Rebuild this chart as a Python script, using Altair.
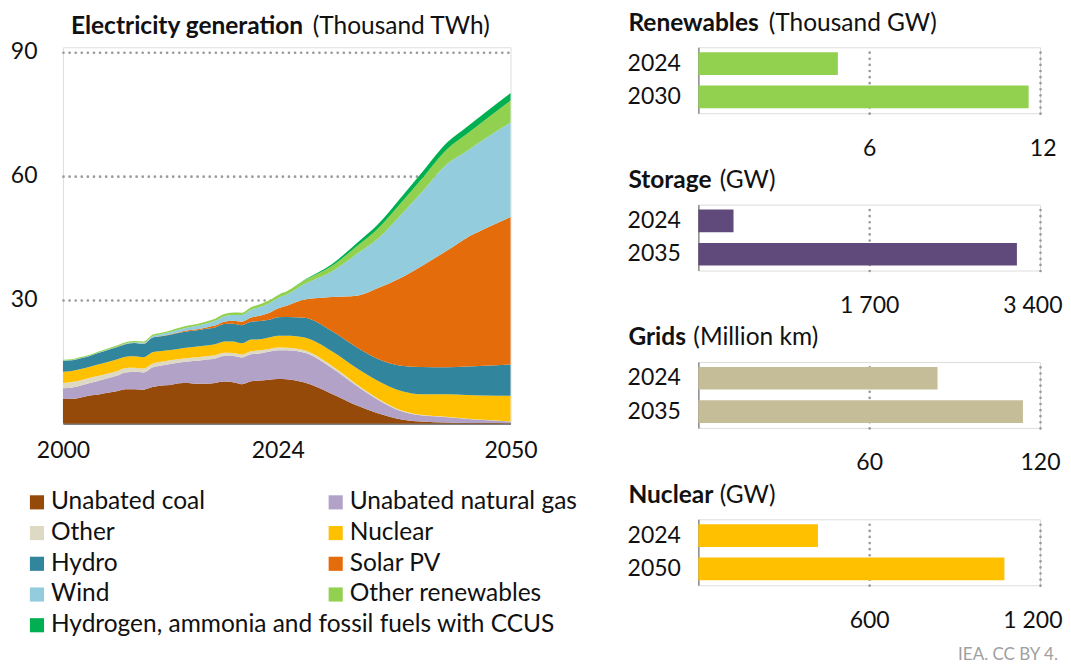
import altair as alt
import pandas as pd

FONT = "Lato"
TXT = "#111111"
GRID = "#9a9a9a"

# ---------------- Electricity generation (thousand TWh) ----------------
years = list(range(2000, 2025)) + [2025, 2027, 2030, 2033, 2035, 2038, 2040, 2043, 2045, 2047, 2050]

coal = [5.9, 5.95, 6.3, 6.75, 7.0, 7.4, 7.8, 8.3, 8.3, 8.15, 8.8, 9.2, 9.3, 9.7, 9.8, 9.6, 9.6, 9.8,
        10.15, 9.95, 9.5, 10.2, 10.4, 10.6, 10.75,
        10.7, 9.9, 7.2, 4.2, 2.6, 0.9, 0.45, 0.2, 0.12, 0.08, 0.05]
gas = [2.6, 2.75, 2.9, 3.05, 3.35, 3.55, 3.75, 4.05, 4.2, 4.2, 4.75, 4.85, 5.1, 5.05, 5.2, 5.55, 5.85,
       5.95, 6.2, 6.35, 6.45, 6.55, 6.55, 6.75, 6.95,
       7.0, 7.2, 6.3, 4.6, 3.4, 1.9, 1.5, 1.3, 1.0, 0.75, 0.4]
other = [1.3, 1.3, 1.25, 1.25, 1.2, 1.15, 1.1, 1.05, 1.0, 0.95, 0.9, 0.9, 0.9, 0.85, 0.85, 0.85, 0.8,
         0.75, 0.75, 0.75, 0.75, 0.75, 0.75, 0.7, 0.7,
         0.65, 0.6, 0.55, 0.4, 0.3, 0.2, 0.12, 0.08, 0.05, 0.03, 0.02]
nuclear = [2.7, 2.7, 2.7, 2.65, 2.75, 2.8, 2.8, 2.75, 2.75, 2.7, 2.76, 2.6, 2.5, 2.5, 2.55, 2.6, 2.62,
           2.65, 2.72, 2.8, 2.7, 2.8, 2.68, 2.74, 2.85,
           2.9, 3.1, 3.5, 3.9, 4.2, 4.7, 5.0, 5.5, 5.7, 5.9, 6.2]
hydro = [2.7, 2.6, 2.65, 2.65, 2.8, 2.9, 3.0, 3.05, 3.2, 3.25, 3.55, 3.55, 3.7, 3.85, 3.95, 3.95, 4.05,
         4.1, 4.25, 4.3, 4.4, 4.3, 4.4, 4.3, 4.45,
         4.55, 4.8, 4.9, 5.1, 5.3, 6.2, 6.6, 6.5, 6.9, 7.2, 7.6]
solar = [0, 0, 0, 0, 0, 0, 0.01, 0.01, 0.01, 0.02, 0.03, 0.06, 0.1, 0.14, 0.19, 0.25, 0.33, 0.45,
         0.58, 0.7, 0.84, 1.03, 1.3, 1.63, 2.13,
         2.7, 4.4, 8.15, 12.8, 16.8, 21.6, 24.33, 28.42, 31.03, 33.04, 35.73]
wind = [0.03, 0.04, 0.05, 0.06, 0.09, 0.10, 0.13, 0.17, 0.22, 0.27, 0.34, 0.44, 0.52, 0.64, 0.71, 0.83,
        0.96, 1.14, 1.27, 1.42, 1.59, 1.87, 2.1, 2.33, 2.5,
        2.7, 3.75, 6.15, 10.3, 11.8, 15.6, 17.8, 21.0, 21.0, 21.75, 22.9]
other_ren = [0.2, 0.2, 0.21, 0.22, 0.23, 0.24, 0.25, 0.26, 0.28, 0.3, 0.33, 0.36, 0.38, 0.41, 0.44,
             0.47, 0.5, 0.52, 0.55, 0.58, 0.6, 0.64, 0.67, 0.7, 0.73,
             0.78, 0.9, 1.3, 1.9, 2.4, 2.9, 3.2, 3.6, 4.1, 4.5, 5.3]
hydrogen = [0] * 25 + [0.02, 0.15, 0.45, 0.8, 1.0, 1.3, 1.5, 1.6, 1.7, 1.75, 1.8]

series = ["Unabated coal", "Unabated natural gas", "Other", "Nuclear", "Hydro", "Solar PV",
          "Wind", "Other renewables", "Hydrogen, ammonia and fossil fuels with CCUS"]
colors = ["#954a09", "#b3a2c7", "#ddd9c3", "#ffc000", "#31859c", "#e46c0a",
          "#93cddd", "#92d050", "#00b050"]
all_vals = [coal, gas, other, nuclear, hydro, solar, wind, other_ren, hydrogen]

# legend layout (column, row) in reading order
legend_col = [0, 1, 0, 1, 0, 1, 0, 1, 0]
legend_row = [0, 0, 1, 1, 2, 2, 3, 3, 4]

rows = []
for i, (name, vals) in enumerate(zip(series, all_vals)):
    for yr, v in zip(years, vals):
        rows.append({"year": yr, "series": name, "value": v, "idx": i})
gen_df = pd.DataFrame(rows)

color_scale = alt.Scale(domain=series, range=colors)

area = alt.Chart(gen_df).mark_area(interpolate="monotone").encode(
    x=alt.X("year:Q",
            scale=alt.Scale(domain=[2000, 2050], nice=False, zero=False),
            axis=alt.Axis(values=[2000, 2024, 2050], format="d", title=None, grid=False,
                          ticks=False, domain=True, domainColor="#595959", domainWidth=1.5,
                          labelFlush=False, labelPadding=16, labelFontSize=23,
                          labelColor=TXT, labelFont=FONT)),
    y=alt.Y("value:Q", stack="zero",
            scale=alt.Scale(domain=[0, 91.09], nice=False),
            axis=alt.Axis(values=[30, 60, 90], title=None, domain=False, ticks=False,
                          grid=True, gridDash=[0.1, 6], gridCap="round", gridWidth=2.6,
                          gridColor=GRID, labelPadding=26, labelFontSize=23,
                          labelColor=TXT, labelFont=FONT)),
    color=alt.Color("series:N", scale=color_scale, legend=None),
    order=alt.Order("idx:Q", sort="ascending"),
)

gen_title_bold = ["Electricity generation"]
gen_title_unit = ["(Thousand TWh)"]
t_bold = alt.Chart(pd.DataFrame({"t": gen_title_bold})).mark_text(
    align="left", baseline="middle", font=FONT, fontSize=24.5, fontWeight="bold", color=TXT
).encode(x=alt.value(8), y=alt.value(-20), text="t:N")
t_unit = alt.Chart(pd.DataFrame({"t": gen_title_unit})).mark_text(
    align="left", baseline="middle", font=FONT, fontSize=24.5, color=TXT
).encode(x=alt.value(250), y=alt.value(-20), text="t:N")

# ---------------- legend (own scales, placed below the plot) ----------------
leg_df = pd.DataFrame({"series": series, "col": legend_col, "row": legend_row})
leg_base = alt.Chart(leg_df).encode(
    x=alt.X("col:Q", scale=alt.Scale(domain=[0, 1], range=[-26, 273]), axis=None),
    y=alt.Y("row:Q", scale=alt.Scale(domain=[0, 4], range=[455.5, 578.5]), axis=None),
)
leg_sw = leg_base.mark_square(size=200, opacity=1).encode(
    color=alt.Color("series:N", scale=color_scale, legend=None))
leg_tx = leg_base.mark_text(align="left", baseline="middle", dx=14, font=FONT,
                            fontSize=24.5, color=TXT).encode(text="series:N")

gen_chart = alt.layer(area, t_bold, t_unit, leg_sw, leg_tx).resolve_scale(
    x="independent", y="independent"
).properties(width=448, height=376.5)

# ---------------- right-hand bar panels ----------------
ren_years = ["2024", "2030"]
ren_vals = [4.9, 11.6]
sto_years = ["2024", "2035"]
sto_vals = [350, 3170]
grid_years = ["2024", "2035"]
grid_vals = [84, 114]
nuc_years = ["2024", "2050"]
nuc_vals = [420, 1075]

LABEL_EXPR = "replace(format(datum.value, ','), ',', ' ')"


def panel(bold, unit, unit_dx, cats, vals, color, dmax, ticks, flush_off, footer=None):
    df = pd.DataFrame({"year": cats, "v": vals})
    bars = alt.Chart(df).mark_bar(color=color).encode(
        y=alt.Y("year:N", sort=cats,
                scale=alt.Scale(paddingInner=0.32, paddingOuter=0.15),
                axis=alt.Axis(title=None, ticks=False, domain=True, domainColor="#8c8c8c",
                              domainWidth=1.5, labelPadding=18, labelFontSize=23,
                              labelColor=TXT, labelFont=FONT)),
        x=alt.X("v:Q", scale=alt.Scale(domain=[0, dmax], nice=False),
                axis=alt.Axis(values=ticks, title=None, ticks=False, domain=False, grid=True,
                              gridDash=[0.1, 6], gridCap="round", gridWidth=2.6,
                              gridColor=GRID, labelPadding=24, labelExpr=LABEL_EXPR,
                              labelFlush=True, labelFlushOffset=flush_off,
                              labelFontSize=23, labelColor=TXT, labelFont=FONT)),
    )
    tb = alt.Chart(pd.DataFrame({"t": [bold]})).mark_text(
        align="left", baseline="middle", font=FONT, fontSize=24.5, fontWeight="bold", color=TXT
    ).encode(x=alt.value(-70), y=alt.value(-23.6), text="t:N")
    tu = alt.Chart(pd.DataFrame({"t": [unit]})).mark_text(
        align="left", baseline="middle", font=FONT, fontSize=24.5, color=TXT
    ).encode(x=alt.value(unit_dx), y=alt.value(-23.6), text="t:N")
    layers = [bars, tb, tu]
    if footer:
        ft = alt.Chart(pd.DataFrame({"t": [footer]})).mark_text(
            align="left", baseline="middle", font=FONT, fontSize=17, color="#a0a0a0",
            limit=104, ellipsis="\u200b"
        ).encode(x=alt.value(260), y=alt.value(136), text="t:N")
        layers.append(ft)
    return alt.layer(*layers).properties(width=342, height=66)


p_ren = panel("Renewables", "(Thousand GW)", 70.5, ren_years, ren_vals, "#92d050", 12, [6, 12], 16)
p_sto = panel("Storage", "(GW)", 21.5, sto_years, sto_vals, "#604a7b", 3400, [1700, 3400], 22)
p_grd = panel("Grids", "(Million km)", -5, grid_years, grid_vals, "#c4bd97", 120, [60, 120], 20)
p_nuc = panel("Nuclear", "(GW)", 21.5, nuc_years, nuc_vals, "#ffc000", 1200, [600, 1200], 22,
              footer="IEA. CC BY 4.0")

right_col = alt.vconcat(p_ren, p_sto, p_grd, p_nuc, spacing=91.5, bounds="flush")

chart = alt.hconcat(gen_chart, right_col, spacing=188, bounds="flush").configure_view(
    stroke=None
).configure(
    font=FONT, background="white",
    padding={"left": 1, "top": 1, "right": 0, "bottom": 0},
)

chart.save("out.html", embed_options={"renderer": "svg", "actions": False})
